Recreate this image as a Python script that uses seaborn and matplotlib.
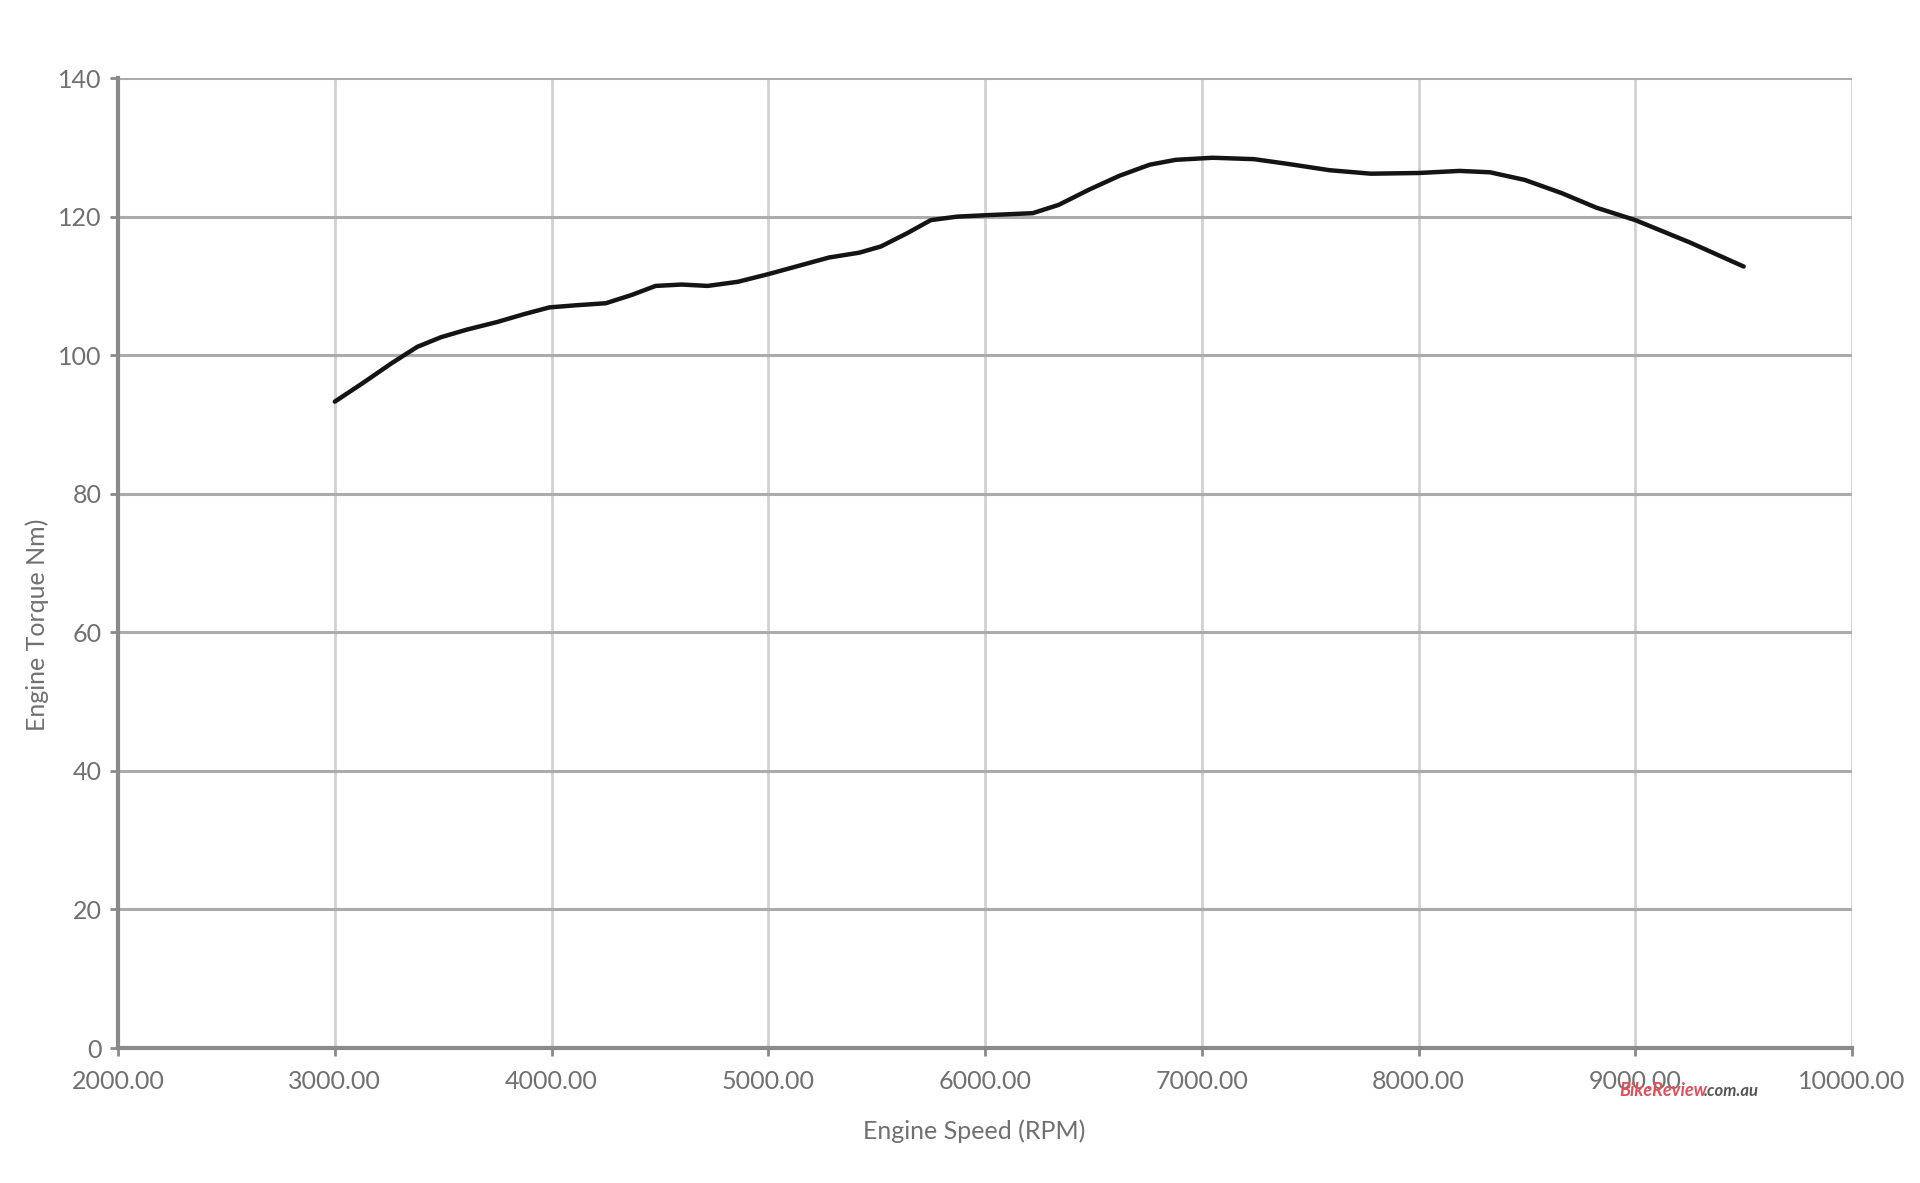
#!/usr/bin/env python3
"""Engine torque curve — torque (Nm) vs engine speed (RPM)."""

import matplotlib
matplotlib.use('Agg')
import matplotlib.pyplot as plt
import seaborn as sns
import pandas as pd

# 读取自图片的数据
rpm = [3000, 3130, 3260, 3380, 3490, 3610, 3750, 3870, 3990, 4110, 4250,
       4370, 4480, 4600, 4720, 4860, 5000, 5140, 5280, 5420, 5520, 5640,
       5750, 5870, 6000, 6220, 6340, 6480, 6620, 6760, 6880, 7050, 7240,
       7400, 7590, 7780, 8000, 8190, 8330, 8490, 8660, 8820, 9000, 9250,
       9500]
torque = [93.3, 96.0, 98.8, 101.2, 102.6, 103.7, 104.8, 105.9, 106.9, 107.2,
          107.5, 108.7, 110.0, 110.2, 110.0, 110.6, 111.7, 112.9, 114.1,
          114.8, 115.7, 117.6, 119.5, 120.0, 120.2, 120.5, 121.7, 123.9,
          125.9, 127.5, 128.2, 128.5, 128.3, 127.6, 126.7, 126.2, 126.3,
          126.6, 126.4, 125.3, 123.4, 121.3, 119.5, 116.3, 112.8]
x_ticks = [2000, 3000, 4000, 5000, 6000, 7000, 8000, 9000, 10000]
y_ticks = [0, 20, 40, 60, 80, 100, 120, 140]

sns.set_theme(style='white')
plt.rcParams['font.family'] = ['Lato', 'DejaVu Sans']

TEXT = '#707070'

df = pd.DataFrame({'rpm': rpm, 'torque': torque})

fig = plt.figure(figsize=(19.2, 11.83), dpi=100)
ax = fig.add_axes([0.0615, 0.1141, 0.9031, 0.8199])

# grid first so the curve sits on top
for x in x_ticks:
    ax.axvline(x, color='#d2d2d2', linewidth=2, zorder=1)
for y in y_ticks:
    ax.axhline(y, color='#ababab', linewidth=2.2, zorder=1)

sns.lineplot(data=df, x='rpm', y='torque', ax=ax, color='#141414',
             linewidth=3.2, zorder=3)
ax.lines[-1].set_solid_joinstyle('round')
ax.lines[-1].set_solid_capstyle('round')

ax.set_xlim(2000, 10000)
ax.set_ylim(0, 140)
ax.set_xticks(x_ticks)
ax.set_xticklabels([f'{v:.2f}' for v in x_ticks])
ax.set_yticks(y_ticks)

for side in ['top', 'right']:
    ax.spines[side].set_visible(False)
for side in ['left', 'bottom']:
    ax.spines[side].set_color('#8a8a8a')
    ax.spines[side].set_linewidth(3)

ax.tick_params(axis='both', colors='#8a8a8a', labelcolor=TEXT, labelsize=18,
               direction='out', length=6, width=2, bottom=True, left=True)
ax.tick_params(axis='x', pad=10)
ax.tick_params(axis='y', pad=6)

ax.set_xlabel('Engine Speed (RPM)', fontsize=18, color=TEXT)
ax.set_ylabel('Engine Torque Nm)', fontsize=18, color=TEXT)
ax.xaxis.set_label_coords(0.494, -0.074)
ax.yaxis.set_label_coords(-0.040, 0.436)

# watermark (sits over the 9000 label, as in the source image)
fig.text(0.8435, 0.0735, 'BikeReview', color='#e0505a', fontsize=13,
         fontweight='bold', fontstyle='italic')
fig.text(0.8875, 0.0735, '.com.au', color='#555555', fontsize=12,
         fontweight='bold', fontstyle='italic')

fig.savefig('out.png', dpi=100)
plt.close(fig)
